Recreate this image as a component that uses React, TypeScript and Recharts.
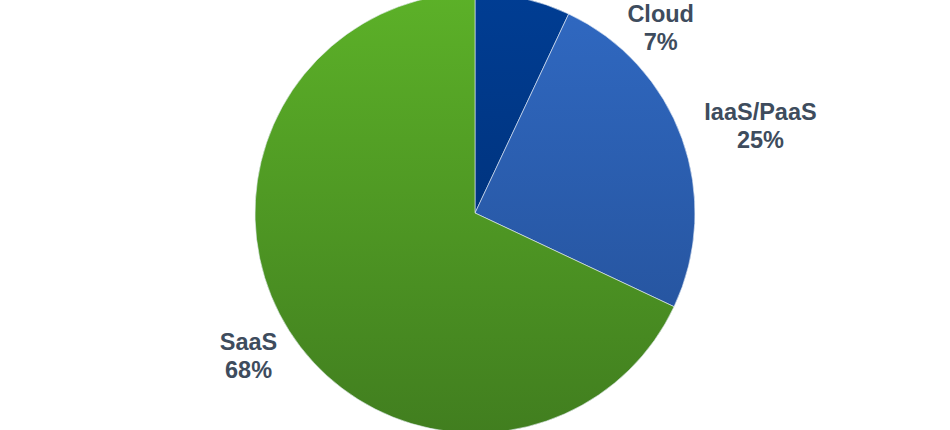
import { PieChart, Pie, Cell } from "recharts";

const CATEGORIES = ["Cloud", "IaaS/PaaS", "SaaS"];
const SHARES = [7, 25, 68];

const W = 950;
const H = 430;
const CX = 475;
const CY = 213;
const R = 220;

// top / bottom gradient stops per slice
const GRADS = [
  ["#003d93", "#002b6b"],
  ["#3069c2", "#234e94"],
  ["#5cb128", "#417e1f"],
];

const LABEL_COLOR = "#3e4c5d";
const FONT = "'Liberation Sans', Arial, sans-serif";
const FS = 23.5;
const LINE = 28;

const data = CATEGORIES.map((name, i) => ({ name, value: SHARES[i] }));

// rough text width for bold Arial
const textW = (s: string) => s.length * FS * 0.6;

const renderLabel = (props: any) => {
  const { midAngle, name, percent, index } = props;
  const rad = (-midAngle * Math.PI) / 180;
  const cos = Math.cos(rad);
  const sin = Math.sin(rad);
  const pct = `${Math.round(percent * 100)}%`;
  const w = Math.max(textW(name), textW(pct));
  const h = LINE * 2 - 10;
  const d = R + 20;
  let x = CX + d * cos + (w / 2) * cos;
  let y = CY + d * sin + (h / 2) * sin;
  const minY = 26;
  if (y < minY) {
    y = minY;
    const dy = CY - y;
    x = CX + Math.sign(cos) * (Math.sqrt(Math.max(d * d - dy * dy, 0)) + w / 2);
  }
  return (
    <text
      key={`lbl-${index}`}
      x={x}
      y={y}
      textAnchor="middle"
      fill={LABEL_COLOR}
      fontFamily={FONT}
      fontSize={FS}
      fontWeight="bold"
    >
      <tspan x={x} dy={-4}>{name}</tspan>
      <tspan x={x} dy={LINE}>{pct}</tspan>
    </text>
  );
};

export default function App() {
  return (
    <div style={{ position: "fixed", top: 0, left: 0, width: W, height: H, background: "#fff" }}>
      <PieChart width={W} height={H} margin={{ top: 0, right: 0, bottom: 0, left: 0 }}>
        <defs>
          {GRADS.map(([a, b], i) => (
            <linearGradient
              key={i}
              id={`g${i}`}
              gradientUnits="userSpaceOnUse"
              x1={0}
              y1={CY - R}
              x2={0}
              y2={CY + R}
            >
              <stop offset="0%" stopColor={a} />
              <stop offset="100%" stopColor={b} />
            </linearGradient>
          ))}
        </defs>
        <Pie
          data={data}
          dataKey="value"
          nameKey="name"
          cx={CX}
          cy={CY}
          outerRadius={R}
          startAngle={90}
          endAngle={-270}
          stroke="#e8eef6"
          strokeWidth={0.6}
          label={renderLabel}
          labelLine={false}
          isAnimationActive={false}
        >
          {data.map((_, i) => (
            <Cell key={i} fill={`url(#g${i})`} />
          ))}
        </Pie>
      </PieChart>
    </div>
  );
}
